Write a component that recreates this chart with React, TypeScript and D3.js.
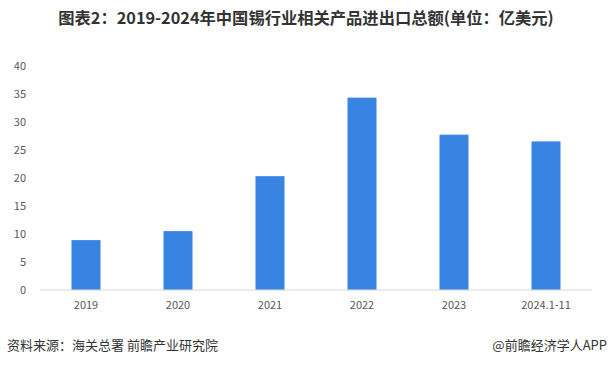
import React from "react";
import * as d3 from "d3";

const categories = ["2019", "2020", "2021", "2022", "2023", "2024.1-11"];
const values = [8.9, 10.5, 20.3, 34.3, 27.7, 26.5];
const yTicks = [0, 5, 10, 15, 20, 25, 30, 35, 40];
const title = "图表2：2019-2024年中国锡行业相关产品进出口总额(单位：亿美元)";
const source = "资料来源：海关总署 前瞻产业研究院";
const credit = "@前瞻经济学人APP";

export default function App() {
  const W = 610, H = 365;
  const left = 40, right = 592, top = 65.7, bottom = 290;
  const x = d3.scaleBand().domain(categories).range([left, right]).paddingInner(0.685).paddingOuter(0.3425);
  const y = d3.scaleLinear().domain([0, 40]).range([bottom, top]);
  const font = "'Microsoft YaHei', 'Noto Sans CJK SC', sans-serif";
  return (
    <svg width={W} height={H} style={{ position: "absolute", left: 0, top: 0, background: "#fff" }} fontFamily={font}>
      <text x={306} y={24} textAnchor="middle" fontSize={16.3} fontWeight="bold" fill="#333">{title}</text>
      {yTicks.map((t) => (
        <text key={t} x={26} y={y(t)} dy="0.35em" textAnchor="end" fontSize={11} fill="#595959">{t}</text>
      ))}
      {categories.map((c, i) => (
        <rect key={c} x={x(c)!} y={y(values[i])} width={x.bandwidth()} height={y(0) - y(values[i])} fill="#3884e2" />
      ))}
      <line x1={left} x2={right} y1={bottom} y2={bottom} stroke="#d9d9d9" strokeWidth={1} />
      {categories.map((c) => (
        <text key={c} x={x(c)! + x.bandwidth() / 2} y={305} dy="0.35em" textAnchor="middle" fontSize={11} fill="#595959">{c}</text>
      ))}
      <text x={7} y={350} fontSize={13} fill="#333">{source}</text>
      <text x={607} y={350} textAnchor="end" fontSize={13} fill="#333">{credit}</text>
    </svg>
  );
}
